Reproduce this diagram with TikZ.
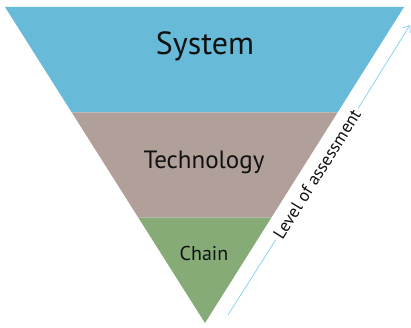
\documentclass[tikz,border=0pt]{standalone}
\usepackage{fontspec}
\setmainfont{PT Sans}
\usetikzlibrary{arrows.meta,calc}
\definecolor{sysblue}{HTML}{67BBD8}
\definecolor{techtaupe}{HTML}{B1A099}
\definecolor{chaingreen}{HTML}{86AB77}
\definecolor{arrowblue}{HTML}{80CFF2}
\definecolor{txt}{HTML}{111111}
\tikzset{
  band/.style={draw=none},
  lbl/.style={text=txt, inner sep=0pt},
  levelarrow/.style={draw=arrowblue, line width=0.7pt},
}
\begin{document}
\begin{tikzpicture}[x=1pt,y=-1pt]
\useasboundingbox (0,0) rectangle (411,328);
% corner points
\coordinate (TL) at (5,7);
\coordinate (TR) at (404,7);
\coordinate (A) at (205,323);
\coordinate (L1) at ($(TL)!0.3333!(A)$);
\coordinate (R1) at ($(TR)!0.3333!(A)$);
\coordinate (L2) at ($(TL)!0.6667!(A)$);
\coordinate (R2) at ($(TR)!0.6667!(A)$);
\fill[sysblue, band] (TL) -- (TR) -- (R1) -- (L1) -- cycle;
\fill[techtaupe, band] (L1) -- (R1) -- (R2) -- (L2) -- cycle;
\fill[chaingreen, band] (L2) -- (R2) -- (A) -- cycle;
\node[lbl, font=\fontsize{32}{36}\selectfont] (sys) at (205,46) {System};
\node[lbl, font=\fontsize{25}{28}\selectfont] (tech) at (204,162) {Technology};
\node[lbl, font=\fontsize{20}{23}\selectfont] (chain) at (204,253) {Chain};
% level arrow
\coordinate (s) at (228,315);
\coordinate (e) at (410,25);
\node[lbl, font=\fontsize{17.5}{20}\selectfont, rotate=57.9, inner sep=3pt] (lev) at (317,174) {Level of assessment};
\draw[levelarrow] (s) -- (lev.west);
\draw[levelarrow, -{Straight Barb[length=6pt,width=9pt]}] (lev.east) -- (e);
\end{tikzpicture}
\end{document}
